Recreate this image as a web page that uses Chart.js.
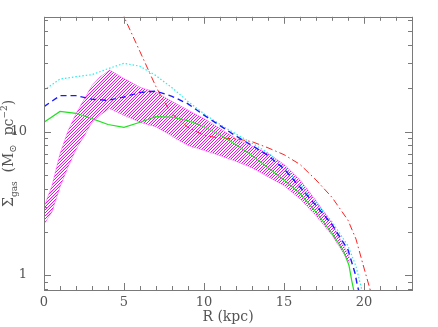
<!DOCTYPE html>
<html>
<head>
<meta charset="utf-8">
<title>Gas surface density profile</title>
<script src="https://cdn.jsdelivr.net/npm/chart.js@4/dist/chart.umd.min.js"></script>
<style>
  html, body { margin: 0; padding: 0; background: #fff; }
  #wrap { width: 438px; height: 327px; }
</style>
</head>
<body>
<div id="wrap"><canvas id="sigmaChart" width="438" height="327"></canvas></div>
<script>
// radius (kpc) and surface density (Msun/pc^2)

// shaded band (upper and lower edge share the same radii)
const bandR     = [0, 0.5, 1, 1.5, 2, 2.5, 3, 3.5, 4.1, 5, 6, 7, 8, 9, 10, 11, 12, 13, 14, 15, 16, 17, 18, 19, 19.1];
const bandUpper = [2.97, 4.2, 7.0, 10.1, 13.3, 16.7, 20.9, 24.0, 26.8, 23.4, 20.3, 18.8, 16.2, 14.1, 12.3, 10.5, 8.9, 7.9, 7.05, 5.9, 4.6, 3.3, 2.3, 1.4, 1.32];
const bandLower = [2.26, 2.76, 4.1, 5.66, 7.5, 9.3, 11.6, 13.0, 14.5, 13.0, 11.6, 10.8, 9.3, 8.0, 7.4, 6.8, 6.2, 5.6, 4.85, 4.2, 3.4, 2.6, 1.9, 1.27, 1.22];

// green solid
const greenR = [0, 1, 2, 3, 4, 5, 6, 7, 8, 9, 10, 11, 12, 13, 14, 15, 16, 17, 18, 18.7, 19.06, 19.23, 19.45];
const greenS = [11.6, 13.8, 13.4, 12.3, 11.2, 10.7, 11.6, 12.7, 12.6, 11.9, 10.8, 9.5, 8.1, 6.8, 5.6, 4.6, 3.7, 2.75, 1.95, 1.49, 1.17, 0.92, 0.7];

// blue dashed
const blueR = [0, 1, 2, 3, 4, 5, 6, 7, 8, 9, 10, 11, 12, 13, 14, 15, 16, 17, 18, 19, 19.44, 19.6, 19.8];
const blueS = [14.9, 17.8, 17.8, 16.8, 16.5, 17.4, 18.7, 19.1, 17.6, 15.6, 13.0, 11.0, 9.3, 8.0, 6.8, 5.5, 4.1, 3.05, 2.25, 1.5, 1.03, 0.83, 0.7];

// cyan dotted
const cyanR = [0, 1, 2, 3, 4, 5, 6, 7, 8, 9, 10, 11, 12, 13, 14, 15, 16, 17, 18, 19, 19.5, 19.85, 20.0];
const cyanS = [19.4, 23.2, 24.1, 24.9, 27.4, 29.9, 28.5, 24.5, 20.2, 16.2, 13.3, 11.2, 9.6, 8.3, 7.1, 5.7, 4.3, 3.2, 2.35, 1.6, 1.15, 0.8, 0.68];

// red dash-dot
const redR = [4.9, 5, 6, 7, 7.5, 8, 9, 10, 11, 12, 13, 14, 15, 16, 17, 18, 19, 19.5, 20, 20.4];
const redS = [70, 63, 36, 20.5, 16.2, 13.3, 10.7, 9.4, 9.0, 8.9, 8.5, 7.7, 6.9, 5.9, 4.6, 3.48, 2.41, 1.78, 1.12, 0.78];

// axes
const xMin = 0, xMax = 23;
const yMin = 0.787, yMax = 63;
const xLabelTicks = [0, 5, 10, 15, 20];
const yLabelTicks = [1, 10];

const pts = (r, s) => r.map((v, i) => ({ x: v, y: s[i] }));

// diagonal hatching for the band, drawn pixel by pixel so it stays crisp
function hatch(color) {
    const c = document.createElement('canvas');
    c.width = 3; c.height = 3;
    const g = c.getContext('2d');
    g.fillStyle = color;
    for (let i = 0; i < 3; i++) {
        g.fillRect(i, 2 - i, 1, 1);
    }
    return g.createPattern(c, 'repeat');
}

const frameColor = '#7a7a7a';
const textColor = '#555555';

// box, inward ticks on all four sides, and the axis titles
const framePlugin = {
    id: 'frame',
    afterDatasetsDraw(chart) {
        const ctx = chart.ctx;
        const a = chart.chartArea;
        const xs = chart.scales.x, ys = chart.scales.y;
        ctx.save();
        ctx.strokeStyle = frameColor;
        ctx.lineWidth = 1;
        ctx.strokeRect(Math.round(a.left) + 0.5, Math.round(a.top) + 0.5,
            Math.round(a.right - a.left), Math.round(a.bottom - a.top));
        ctx.beginPath();
        for (let v = xMin; v <= xMax; v++) {
            const px = Math.round(xs.getPixelForValue(v)) + 0.5;
            const len = v % 5 === 0 ? 7 : 4;
            ctx.moveTo(px, a.bottom); ctx.lineTo(px, a.bottom - len);
            ctx.moveTo(px, a.top); ctx.lineTo(px, a.top + len);
        }
        for (let d = 0.1; d <= 100; d *= 10) {
            for (let m = 1; m <= 9; m++) {
                const v = m * d;
                if (v < yMin || v > yMax) continue;
                const py = Math.round(ys.getPixelForValue(v)) + 0.5;
                const len = m === 1 ? 7 : 4;
                ctx.moveTo(a.left, py); ctx.lineTo(a.left + len, py);
                ctx.moveTo(a.right, py); ctx.lineTo(a.right - len, py);
            }
        }
        ctx.stroke();

        // x title
        ctx.fillStyle = textColor;
        ctx.font = '14px "DejaVu Serif"';
        ctx.textAlign = 'center';
        ctx.textBaseline = 'middle';
        ctx.fillText('R (kpc)', (a.left + a.right) / 2, 317);

        // y title with sub/superscripts
        const parts = [
            { t: 'Σ', f: 14, dy: 0 },
            { t: 'gas', f: 9, dy: 4 },
            { t: '  (M', f: 14, dy: 0 },
            { t: '⊙', f: 10, dy: 3 },
            { t: '  pc', f: 14, dy: 0 },
            { t: '−2', f: 9, dy: -6 },
            { t: ')', f: 14, dy: 0 }
        ];
        ctx.textAlign = 'left';
        ctx.textBaseline = 'alphabetic';
        let total = 0;
        parts.forEach(p => {
            ctx.font = p.f + 'px "DejaVu Serif"';
            p.w = ctx.measureText(p.t).width;
            total += p.w;
        });
        ctx.translate(13, (a.top + a.bottom) / 2);
        ctx.rotate(-Math.PI / 2);
        let cx = -total / 2;
        parts.forEach(p => {
            ctx.font = p.f + 'px "DejaVu Serif"';
            ctx.fillText(p.t, cx, p.dy);
            cx += p.w;
        });
        ctx.restore();
    }
};

const lineStyle = {
    pointRadius: 0,
    borderWidth: 1.2,
    fill: false,
    tension: 0,
    order: 0
};

const ctx = document.getElementById('sigmaChart').getContext('2d');
const sigmaChart = new Chart(ctx, {
    type: 'line',
    data: {
        datasets: [
            {
                label: 'band upper',
                data: pts(bandR, bandUpper),
                borderColor: 'rgba(255,0,255,0.35)',
                borderWidth: 1,
                backgroundColor: hatch('#ff00ff'),
                pointRadius: 0,
                fill: '+1',
                order: 1
            },
            {
                label: 'band lower',
                data: pts(bandR, bandLower),
                borderColor: 'rgba(255,0,255,0.35)',
                borderWidth: 1,
                pointRadius: 0,
                fill: false,
                order: 1
            },
            Object.assign({ label: 'green', data: pts(greenR, greenS), borderColor: '#22e022' }, lineStyle),
            Object.assign({ label: 'blue', data: pts(blueR, blueS), borderColor: '#1a1aff', borderDash: [6, 4] }, lineStyle, { borderWidth: 1.4 }),
            Object.assign({ label: 'cyan', data: pts(cyanR, cyanS), borderColor: '#22f0f0', borderDash: [1.5, 2] }, lineStyle),
            Object.assign({ label: 'red', data: pts(redR, redS), borderColor: '#ff2020', borderDash: [7, 3, 1.5, 3] }, lineStyle, { borderWidth: 1 })
        ]
    },
    options: {
        responsive: false,
        animation: false,
        layout: { padding: { left: 0, top: 16, right: 26, bottom: 0 } },
        plugins: {
            legend: { display: false },
            tooltip: { enabled: false }
        },
        scales: {
            x: {
                type: 'linear',
                min: xMin,
                max: xMax,
                grid: { display: false },
                border: { display: false },
                afterBuildTicks: s => { s.ticks = xLabelTicks.map(v => ({ value: v })); },
                afterFit: s => { s.height = 37; },
                ticks: {
                    color: textColor,
                    font: { family: 'DejaVu Serif', size: 13 },
                    padding: -3,
                    maxRotation: 0
                }
            },
            y: {
                type: 'logarithmic',
                min: yMin,
                max: yMax,
                grid: { display: false },
                border: { display: false },
                afterBuildTicks: s => { s.ticks = yLabelTicks.map(v => ({ value: v })); },
                afterFit: s => { s.width = 44; },
                ticks: {
                    color: textColor,
                    font: { family: 'DejaVu Serif', size: 13 },
                    padding: 9,
                    callback: v => String(v)
                }
            }
        }
    },
    plugins: [framePlugin]
});
</script>
</body>
</html>
